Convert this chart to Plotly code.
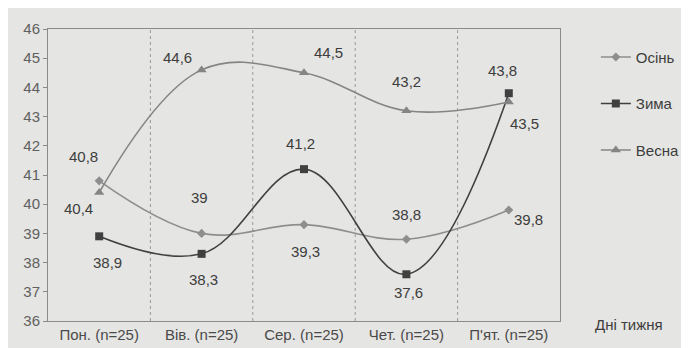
import plotly.graph_objects as go

days = ["Пон. (n=25)", "Вів. (n=25)", "Сер. (n=25)", "Чет. (n=25)", "П'ят. (n=25)"]
autumn = [40.8, 39.0, 39.3, 38.8, 39.8]
winter = [38.9, 38.3, 41.2, 37.6, 43.8]
spring = [40.4, 44.6, 44.5, 43.2, 43.5]

# label pixel offsets (dx, dy) relative to each point, dy positive = down
autumn_off = [(-16, -24), (-2, -36), (1, 27), (0, -25), (20, 9)]
winter_off = [(8, 26), (2, 26), (-4, -26), (2, 18), (-6, -23)]
spring_off = [(-21, 16), (-24, -12), (24, -20), (0, -29), (16, 21)]

def fmt(v):
    return ("%g" % v).replace(".", ",")

x = list(range(len(days)))
font = "Liberation Sans, Arial, sans-serif"
fig = go.Figure()

series = [
    ("Осінь", autumn, autumn_off, "#8e8e8e", "diamond", 7),
    ("Зима", winter, winter_off, "#404040", "square", 8),
    ("Весна", spring, spring_off, "#858585", "triangle-up", 9),
]
for name, vals, offs, col, sym, sz in series:
    fig.add_trace(go.Scatter(
        x=x, y=vals, name=name, legendgroup=name,
        mode="lines+markers",
        line=dict(color=col, width=1.6, shape="spline", smoothing=1.1),
        marker=dict(symbol=sym, size=sz, color=col),
    ))
    for xi, v, (dx, dy) in zip(x, vals, offs):
        fig.add_annotation(x=xi, y=v, text=fmt(v), showarrow=False,
                           xshift=dx, yshift=-dy,
                           font=dict(size=15, color="#3d3d3d", family=font))

# category separator grid lines
for b in [i + 0.5 for i in x[:-1]]:
    fig.add_shape(type="line", xref="x", yref="paper", x0=b, x1=b, y0=0, y1=1,
                  line=dict(color="#9a9a9a", width=1, dash="dot"), layer="below")

fig.add_annotation(text="Дні тижня", xref="paper", yref="paper", x=1.134, y=-0.013,
                   showarrow=False, xanchor="center", yanchor="middle",
                   font=dict(size=15, color="#3d3d3d", family=font))

fig.update_layout(
    width=689, height=348,
    margin=dict(l=40, r=127, t=18, b=35),
    paper_bgcolor="#e5e5e3", plot_bgcolor="#e5e5e3",
    font=dict(family=font, size=15, color="#555555"),
    showlegend=True,
    legend=dict(x=1.07, y=0.96, xanchor="left", yanchor="top",
                tracegroupgap=24, font=dict(size=15, color="#3d3d3d", family=font),
                bgcolor="rgba(0,0,0,0)"),
    xaxis=dict(range=[-0.5, len(days) - 0.5], tickvals=x, ticktext=days,
               showgrid=False, zeroline=False, showline=True, linecolor="#8a8a8a",
               mirror=True, ticks="", tickfont=dict(size=15, color="#4a4a4a")),
    yaxis=dict(range=[36, 46], dtick=1, showgrid=False, zeroline=False,
               showline=True, linecolor="#8a8a8a", mirror=True,
               ticks="outside", ticklen=4, tickcolor="#8a8a8a",
               tickfont=dict(size=15, color="#606060")),
)
fig.write_html("out.html")
